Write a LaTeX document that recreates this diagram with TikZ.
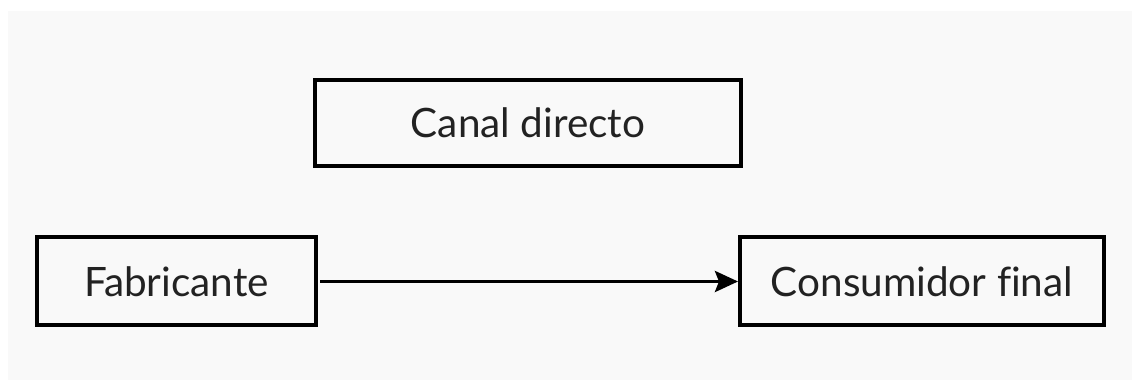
\documentclass[tikz,border=0pt]{standalone}
\usepackage{fontspec}
\setmainfont[Ligatures=NoCommon]{Lato}
\usetikzlibrary{arrows.meta}
\definecolor{bggray}{HTML}{F9F9F9}
\definecolor{txt}{HTML}{222222}
\begin{document}
\begin{tikzpicture}[x=1pt,y=1pt,
  box/.style={draw=black, line width=4pt, fill=bggray, inner sep=0pt, text=txt,
    font=\fontsize{40.5}{48}\selectfont, minimum height=88pt},
  conn/.style={line width=3.5pt, -{Stealth[length=23pt,width=21pt,inset=4pt]}}]
\useasboundingbox (0,0) rectangle (1132,380);
\fill[white] (0,0) rectangle (1132,380);
\fill[bggray] (8,0) rectangle (1132,369);
\node[box, minimum width=426pt, minimum height=86pt] (canal) at (528,257) {Canal directo};
\node[box, minimum width=279pt] (fab) at (176.5,98.5) {Fabricante};
\node[box, minimum width=364pt] (cons) at (922,98.5) {Consumidor f\kern0pt inal};
\draw[conn] (fab.east) ++(2,0) coordinate (fs) (fs) -- (cons.west);
\end{tikzpicture}
\end{document}
